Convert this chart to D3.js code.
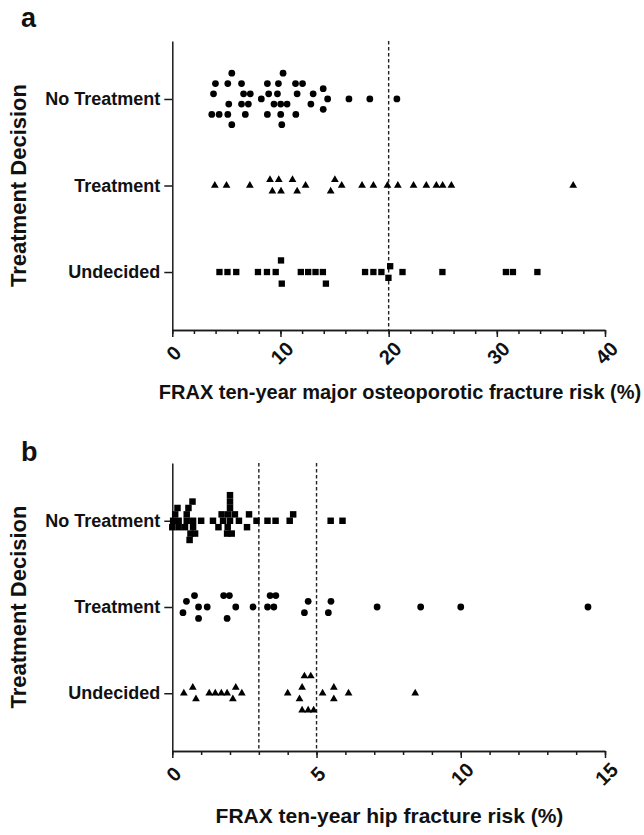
<!DOCTYPE html>
<html>
<head>
<meta charset="utf-8">
<script src="https://cdnjs.cloudflare.com/ajax/libs/d3/7.8.5/d3.min.js"></script>
<style>
  body { margin: 0; background: #fff; }
  text { font-family: "Liberation Sans", Arial, sans-serif; font-weight: bold; fill: #111; }
  .axis path, .axis line { stroke: #1a1a1a; stroke-width: 1.5; }
</style>
</head>
<body>
<script>
// categories shared by both panels
var categories = ["No Treatment", "Treatment", "Undecided"]

// panel a: FRAX major osteoporotic risk (%), [value, stack slot]
var aNoTreatment = [
  [5.5, -5], [10.24, -5],
  [3.99, -3], [5.13, -3], [6.4, -3], [8.79, -3], [9.81, -3], [11.39, -3], [12.04, -3],
  [13.95, -2],
  [3.81, -1], [6.59, -1], [7.21, -1], [8.91, -1], [9.72, -1], [11.54, -1], [13.02, -1],
  [8.23, 0], [14.36, 0], [16.33, 0], [18.26, 0], [20.76, 0],
  [5.22, 1], [6.4, 1], [7.03, 1], [9.4, 1], [10.02, 1], [10.61, 1], [12.81, 1],
  [13.95, 2],
  [3.65, 3], [4.33, 3], [5.13, 3], [6.75, 3], [8.79, 3], [10.02, 3], [11.42, 3],
  [5.5, 5], [10.12, 5]
]
var aTreatment = [
  [9.03, -1], [9.84, -1], [11.11, -1], [15.03, -1],
  [3.93, 0], [5.01, 0], [7.17, 0], [12.32, 0], [15.66, 0], [17.54, 0], [18.59, 0],
  [19.89, 0], [20.85, 0], [22.3, 0], [23.48, 0], [24.41, 0], [24.99, 0], [25.8, 0], [37.06, 0],
  [9.25, 1], [10.05, 1], [11.54, 1], [14.64, 1]
]
var aUndecided = [
  [10.05, -2], [20.14, -1],
  [4.36, 0], [5.1, 0], [5.91, 0], [7.92, 0], [8.75, 0], [9.56, 0], [11.88, 0], [12.56, 0],
  [13.24, 0], [13.92, 0], [17.82, 0], [18.59, 0], [19.33, 0], [21.28, 0], [24.97, 0],
  [30.84, 0], [31.49, 0], [33.75, 0],
  [19.98, 1], [10.12, 2], [14.2, 2]
]
var aThresholds = [20]
var aTicks = [0, 10, 20, 30, 40]

// panel b: FRAX hip fracture risk (%)
var bNoTreatment = [
  [2.0, -4],
  [0.7, -3], [2.0, -3],
  [0.18, -2], [0.56, -2], [2.0, -2],
  [0.1, -1], [0.5, -1], [1.71, -1], [1.94, -1], [2.17, -1], [2.66, -1], [4.19, -1],
  [0.03, 0], [0.22, 0], [0.5, 0], [0.72, 0], [1.0, 0], [1.41, 0], [1.76, 0], [2.0, 0],
  [2.31, 0], [2.92, 0], [3.3, 0], [3.58, 0], [4.07, 0], [5.49, 0], [5.9, 0],
  [0.0, 1], [0.22, 1], [0.44, 1], [0.72, 1], [1.6, 1], [1.92, 1], [2.59, 1],
  [0.63, 2], [0.79, 2], [1.9, 2], [2.06, 2],
  [0.6, 3]
]
var bTreatment = [
  [0.77, -2], [1.78, -2], [1.98, -2], [3.39, -2], [3.59, -2],
  [0.49, -1], [4.71, -1], [5.5, -1],
  [0.91, 0], [1.21, 0], [2.2, 0], [2.8, 0], [3.3, 0], [3.52, 0], [7.1, 0], [8.61, 0],
  [10.0, 0], [14.41, 0],
  [0.37, 1], [4.58, 1], [5.41, 1],
  [0.91, 2], [1.9, 2]
]
var bUndecided = [
  [4.58, -3], [4.8, -3],
  [0.71, -1], [2.2, -1], [4.5, -1], [5.6, -1],
  [0.4, 0], [1.28, 0], [1.49, 0], [1.7, 0], [1.9, 0], [2.41, 0], [4.0, 0], [5.21, 0],
  [6.11, 0], [8.42, 0],
  [0.82, 1], [2.1, 1], [4.41, 1], [5.6, 1],
  [4.5, 3], [4.71, 3], [4.9, 3]
]
var bThresholds = [3, 5]
var bTicks = [0, 5, 10, 15]

var svg = d3.select("body")
  .append("svg")
  .attr("width", 644)
  .attr("height", 835)

function drawPanel(p)
{
  var g = svg.append("g")

  var x = d3.scaleLinear()
    .domain(p.domain)
    .range([172.3, 605])

  var y = d3.scalePoint()
    .domain(categories)
    .range([p.top, p.bottom])
    .padding(0.67)

  // dashed threshold lines
  g.selectAll("line.thr")
    .data(p.thresholds)
    .enter()
    .append("line")
    .attr("class", "thr")
    .attr("x1", function(d) { return x(d) })
    .attr("x2", function(d) { return x(d) })
    .attr("y1", p.top)
    .attr("y2", p.bottom)
    .attr("stroke", "#222")
    .attr("stroke-width", 1.4)
    .attr("stroke-dasharray", "3.5,2.5")

  // minor ticks
  g.append("g")
    .attr("class", "axis")
    .attr("transform", "translate(0," + p.bottom + ")")
    .call(d3.axisBottom(x).tickValues(d3.range(p.domain[0], p.domain[1] + 0.001, p.minor))
      .tickSize(4).tickSizeOuter(0).tickFormat(""))

  // major ticks and rotated labels
  var xAxis = g.append("g")
    .attr("class", "axis")
    .attr("transform", "translate(0," + p.bottom + ")")
    .call(d3.axisBottom(x).tickValues(p.ticks).tickSize(7).tickSizeOuter(0))
  xAxis.attr("font-size", null).attr("font-family", null)
  xAxis.selectAll("text")
    .attr("y", 0)
    .attr("dy", "0.35em")
    .attr("text-anchor", "middle")
    .attr("transform", "translate(1,23) rotate(-45)")
    .style("font-size", "20px")
    .style("font-weight", "900")

  var yAxis = g.append("g")
    .attr("class", "axis")
    .attr("transform", "translate(172.3,0)")
    .call(d3.axisLeft(y).tickSize(8).tickSizeOuter(0).tickPadding(4))
  yAxis.attr("font-size", null).attr("font-family", null)
  yAxis.selectAll("text")
    .style("font-size", "18px")

  // points
  p.series.forEach(function(s, i)
  {
    var cy = y(categories[i])
    var sym = d3.symbol().type(s.shape).size(s.size)
    g.selectAll(null)
      .data(s.data)
      .enter()
      .append("path")
      .attr("d", sym)
      .attr("fill", "#000")
      .attr("transform", function(d)
      {
        return "translate(" + x(d[0]) + "," + (cy + d[1] * s.gap) + ")"
      })
  })

  g.append("text")
    .attr("x", 21)
    .attr("y", p.letterY)
    .style("font-size", "27px")
    .text(p.letter)

  g.append("text")
    .attr("text-anchor", "middle")
    .attr("transform", "translate(26," + ((p.top + p.bottom) / 2) + ") rotate(-90)")
    .style("font-size", "22px")
    .text("Treatment Decision")

  g.append("text")
    .attr("text-anchor", "middle")
    .attr("x", p.titleX)
    .attr("y", p.titleY)
    .style("font-size", p.titleSize)
    .text(p.title)
}

drawPanel({
  letter: "a", letterY: 27, top: 41, bottom: 330,
  domain: [0, 40], ticks: aTicks, minor: 2, thresholds: aThresholds,
  title: "FRAX ten-year major osteoporotic fracture risk (%)",
  titleX: 400, titleY: 399, titleSize: "20px",
  series: [
    {data: aNoTreatment, shape: d3.symbolCircle, size: 36, gap: 5.15},
    {data: aTreatment, shape: d3.symbolTriangle, size: 26, gap: 5.8},
    {data: aUndecided, shape: d3.symbolSquare, size: 40, gap: 5.8}
  ]
})

drawPanel({
  letter: "b", letterY: 461, top: 463, bottom: 751,
  domain: [0, 15], ticks: bTicks, minor: 1, thresholds: bThresholds,
  title: "FRAX ten-year hip fracture risk (%)",
  titleX: 389.5, titleY: 823, titleSize: "21px",
  series: [
    {data: bNoTreatment, shape: d3.symbolSquare, size: 42, gap: 6.4},
    {data: bTreatment, shape: d3.symbolCircle, size: 36, gap: 5.7},
    {data: bUndecided, shape: d3.symbolTriangle, size: 26, gap: 5.7}
  ]
})
</script>
</body>
</html>
